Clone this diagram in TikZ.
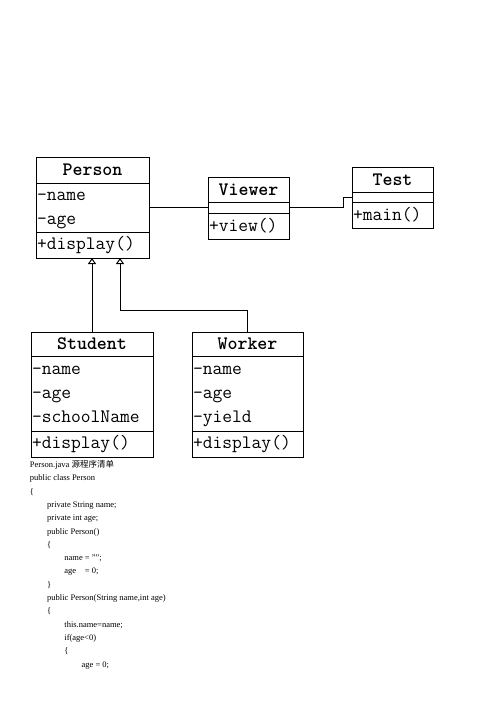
\documentclass[tikz,border=0pt]{standalone}
\usepackage{fontspec}
\setmainfont{Liberation Serif}
\newfontfamily\cjk{Noto Sans CJK SC}
\usetikzlibrary{arrows.meta,positioning}

\begin{document}
\begin{tikzpicture}[x=1pt, y=-1pt, line width=1pt,
      every node/.append style={inner sep=0pt, outer sep=0pt},
      cls/.style={draw, rectangle, anchor=north west, font=\ttfamily\bfseries\fontsize{19}{24}\selectfont},
      part/.style={draw, rectangle, inner xsep=1pt, align=left, font=\ttfamily\fontsize{19}{24}\selectfont},
      slot/.style={draw, rectangle},
      inherit/.style={-{Triangle[open, length=6pt, width=8pt]}}]
    \tikzstyle{code} = [anchor=base west, font=\fontsize{8.5}{10}\selectfont]
    \useasboundingbox (0,0) rectangle (496,702);
    % classes
    \node (person) [cls, minimum width=113pt, minimum height=26pt] at (36,157) {Person};
    \node (person-a) [part, below=0pt of person, text width=111pt, minimum height=49pt] {\strut-name\\-age\strut};
    \node (person-m) [part, below=0pt of person-a, text width=111pt, minimum height=26pt] {+display()};
    \node (viewer) [cls, minimum width=81pt, minimum height=25pt] at (208,177) {Viewer};
    \node (viewer-a) [slot, below=0pt of viewer, minimum width=81pt, minimum height=11pt] {};
    \node (viewer-m) [part, below=0pt of viewer-a, text width=79pt, minimum height=26pt] {+view()};
    \node (test) [cls, minimum width=81pt, minimum height=25pt] at (352,167) {Test};
    \node (test-a) [slot, below=0pt of test, minimum width=81pt, minimum height=10pt] {};
    \node (test-m) [part, below=0pt of test-a, text width=79pt, minimum height=26pt] {+main()};
    \node (student) [cls, minimum width=122pt, minimum height=24pt] at (31,332) {Student};
    \node (student-a) [part, below=0pt of student, text width=120pt, minimum height=75pt] {\strut-name\\-age\\-schoolName\strut};
    \node (student-m) [part, below=0pt of student-a, text width=120pt, minimum height=26pt] {+display()};
    \node (worker) [cls, minimum width=111pt, minimum height=24pt] at (192,332) {Worker};
    \node (worker-a) [part, below=0pt of worker, text width=109pt, minimum height=75pt] {\strut-name\\-age\\-yield\strut};
    \node (worker-m) [part, below=0pt of worker-a, text width=109pt, minimum height=26pt] {+display()};
    % links
    \coordinate (bend) at (343,197);
    \coordinate (fork) at (120,310);
    \draw (person-a) -- (viewer-a);
    \draw (viewer-a.east) -| (bend) -- (test-a.west);
    \draw[inherit] (student) -- (student |- person-m.south);
    \draw[inherit] (worker.north) |- (fork) -- (fork |- person-m.south);
    % listing
    \foreach \lvl/\txt [count=\i from 0] in {0/{Person.java {\cjk 源程序清单}}, 0/{public class Person}, 0/\{,
        1/{private String name;}, 1/{private int age;}, 1/{public Person()}, 1/\{,
        2/{name = "";}, 2/{age\hspace{8.7pt}= 0;}, 1/\}, 1/{public Person(String name,int age)}, 1/\{,
        2/{this.name=name;}, 2/{if(age<0)}, 2/\{, 3/{age = 0;}}
      \node (code-\i) [code] at (30+17.2*\lvl, 467.5+13.3*\i) {\txt};
\end{tikzpicture}
\end{document}
